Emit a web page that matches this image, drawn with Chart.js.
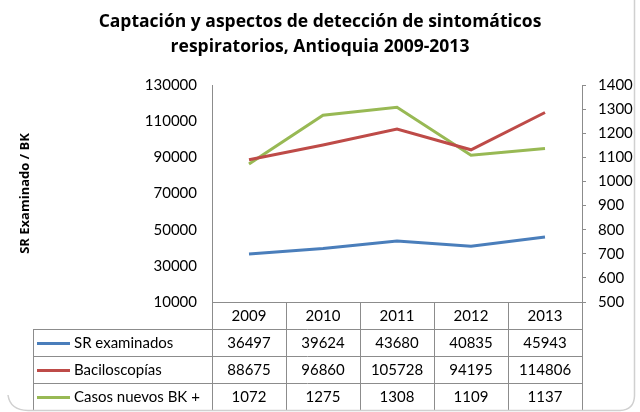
<!DOCTYPE html>
<html>
<head>
<meta charset="utf-8">
<script src="https://cdn.jsdelivr.net/npm/chart.js@4"></script>
<style>
  html, body { margin: 0; padding: 0; background: #fff; }
  #wrap { width: 640px; height: 412px; position: relative; }
</style>
</head>
<body>
<div id="wrap"><canvas id="myChart" width="640" height="412"></canvas></div>
<script>
const years = ['2009', '2010', '2011', '2012', '2013'];
const srExaminados = [36497, 39624, 43680, 40835, 45943];
const baciloscopias = [88675, 96860, 105728, 94195, 114806];
const casosNuevos = [1072, 1275, 1308, 1109, 1137];
const leftTicks = [10000, 130000, 20000];   // min, max, step
const rightTicks = [500, 1400, 100];

const FONT = 'Lato, "Open Sans", sans-serif';
const BOLD_FONT = '"Open Sans", Lato, sans-serif';
const lineGrey = '#8c8c8c';

const series = [
  { label: 'SR examinados', data: srExaminados, color: '#4a7ebb', axis: 'y' },
  { label: 'Baciloscopías', data: baciloscopias, color: '#be4b48', axis: 'y' },
  { label: 'Casos nuevos BK +', data: casosNuevos, color: '#98b954', axis: 'y1' }
];

// data table under the plot, drawn off the x scale
const dataTable = {
  id: 'dataTable',
  afterDraw(chart) {
    const ctx = chart.ctx;
    const area = chart.chartArea;
    const x = chart.scales.x;
    const colW = (area.right - area.left) / years.length;
    const rowH = 27;
    const top = area.bottom;
    const legLeft = 33;
    ctx.save();
    ctx.strokeStyle = lineGrey;
    ctx.lineWidth = 1;
    // horizontal lines
    ctx.beginPath();
    ctx.moveTo(area.left, top + 0.5);
    ctx.lineTo(area.right, top + 0.5);
    for (let r = 1; r <= series.length + 1; r++) {
      const y = Math.round(top + r * rowH) + 0.5;
      ctx.moveTo(legLeft, y);
      ctx.lineTo(area.right, y);
    }
    // vertical lines
    for (let c = 0; c <= years.length; c++) {
      const xx = Math.round(area.left + c * colW) + 0.5;
      ctx.moveTo(xx, top);
      ctx.lineTo(xx, top + rowH * (series.length + 1));
    }
    ctx.moveTo(legLeft + 0.5, top + rowH);
    ctx.lineTo(legLeft + 0.5, top + rowH * (series.length + 1));
    ctx.stroke();

    ctx.fillStyle = '#000';
    ctx.font = '15px ' + FONT;
    ctx.textAlign = 'center';
    ctx.textBaseline = 'middle';
    years.forEach((yr, i) => {
      ctx.fillText(yr, x.getPixelForValue(i), top + rowH / 2 + 1);
    });
    series.forEach((s, r) => {
      const cy = top + rowH * (r + 1) + rowH / 2 + 1;
      s.data.forEach((v, i) => {
        ctx.textAlign = 'center';
        ctx.fillText(String(v), x.getPixelForValue(i), cy);
      });
      ctx.strokeStyle = s.color;
      ctx.lineWidth = 3;
      ctx.beginPath();
      ctx.moveTo(37, cy);
      ctx.lineTo(70, cy);
      ctx.stroke();
      ctx.textAlign = 'left';
      ctx.fillText(s.label, 74, cy);
    });

    // outer frame (only right and bottom show)
    ctx.strokeStyle = '#d0d0d0';
    ctx.lineWidth = 1.5;
    ctx.beginPath();
    ctx.moveTo(8, 395);
    ctx.quadraticCurveTo(10, 410, 28, 410.5);
    ctx.lineTo(620, 410.5);
    ctx.quadraticCurveTo(634, 410, 634.5, 396);
    ctx.lineTo(634.5, 0);
    ctx.stroke();
    ctx.restore();
  }
};

new Chart(document.getElementById('myChart'), {
  type: 'line',
  data: {
    labels: years,
    datasets: series.map(s => ({
      label: s.label,
      data: s.data,
      borderColor: s.color,
      backgroundColor: s.color,
      borderWidth: 3,
      pointRadius: 0,
      tension: 0,
      yAxisID: s.axis
    }))
  },
  options: {
    responsive: false,
    animation: false,
    layout: { padding: { left: 0, right: 0, top: 0, bottom: 110 } },
    plugins: {
      legend: { display: false },
      tooltip: { enabled: false },
      title: {
        display: true,
        text: ['Captación y aspectos de detección de sintomáticos', 'respiratorios, Antioquia 2009-2013'],
        color: '#000',
        font: { family: BOLD_FONT, size: 17.5, weight: 'bold', lineHeight: 1.43 },
        padding: { top: 9.5, bottom: 25.5 }
      }
    },
    scales: {
      x: {
        display: false,
        offset: true
      },
      y: {
        position: 'left',
        min: leftTicks[0],
        max: leftTicks[1],
        ticks: {
          stepSize: leftTicks[2], color: '#000', padding: 15,
          font: { family: FONT, size: 15 },
          callback: v => String(v)
        },
        grid: { display: false, drawTicks: false },
        border: { display: true, color: lineGrey },
        title: {
          display: true,
          text: 'SR Examinado / BK',
          color: '#000',
          font: { family: BOLD_FONT, size: 13, weight: 'bold' },
          padding: 17
        },
        afterFit(scale) { scale.width = 212; }
      },
      y1: {
        position: 'right',
        min: rightTicks[0],
        max: rightTicks[1],
        ticks: {
          stepSize: rightTicks[2], color: '#000', padding: 12,
          font: { family: FONT, size: 15 },
          callback: v => String(v)
        },
        grid: { drawOnChartArea: false, drawTicks: true, tickLength: 4, color: lineGrey },
        border: { display: true, color: lineGrey },
        afterFit(scale) { scale.width = 58; }
      }
    }
  },
  plugins: [dataTable]
});
</script>
</body>
</html>
